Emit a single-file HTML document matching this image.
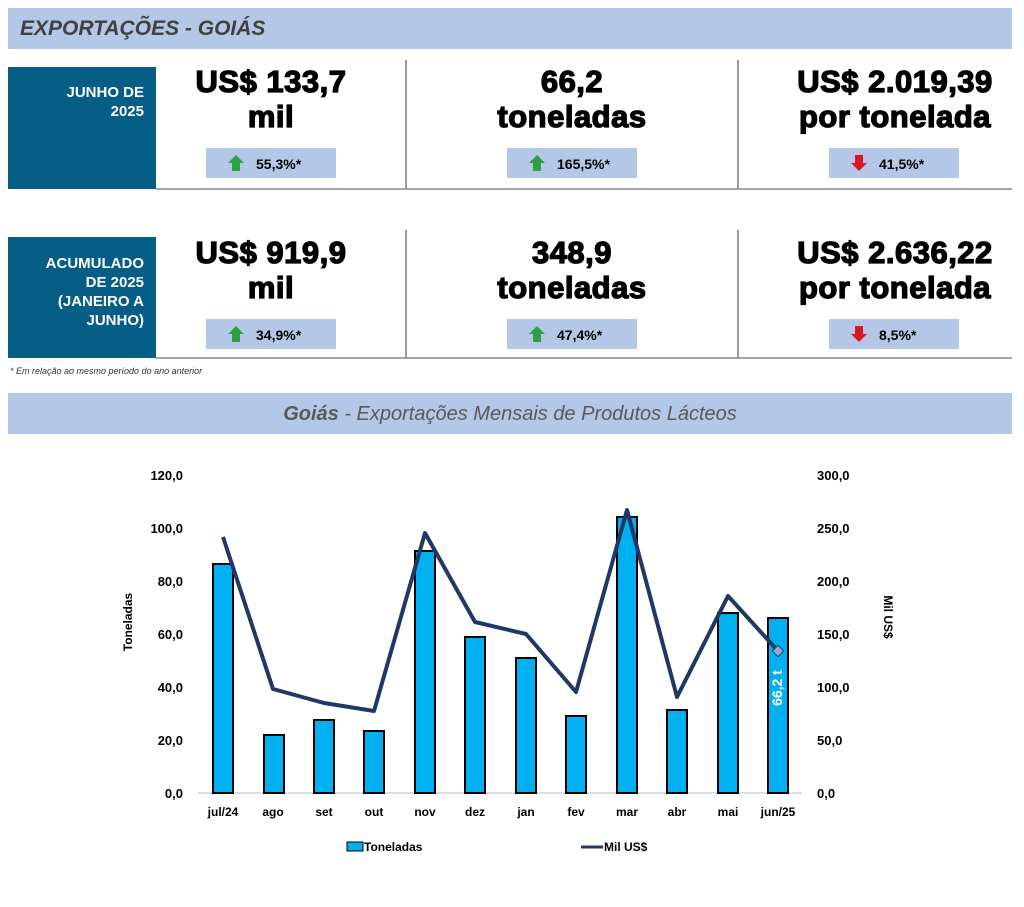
<!DOCTYPE html><html><head><meta charset="utf-8"><style>body{margin:0;background:#fff;width:1024px;height:902px;overflow:hidden;font-family:"Liberation Sans",sans-serif}</style></head><body>
<svg width="1024" height="902" xmlns="http://www.w3.org/2000/svg" font-family="Liberation Sans, sans-serif">
<rect x="8" y="8" width="1004" height="41" fill="#b4c7e7"/>
<text x="20" y="35" font-size="21" font-weight="bold" font-style="italic" fill="#404040">EXPORTAÇÕES - GOIÁS</text>
<g>
<rect x="8" y="67" width="148" height="122" fill="#065e87"/>
<text x="144" y="97" font-size="15" font-weight="bold" fill="#fff" text-anchor="end">JUNHO DE</text>
<text x="144" y="116" font-size="15" font-weight="bold" fill="#fff" text-anchor="end">2025</text>
<line x1="406" y1="60" x2="406" y2="189" stroke="#333"/><line x1="738" y1="60" x2="738" y2="189" stroke="#333"/>
<line x1="156" y1="189" x2="1012" y2="189" stroke="#888" stroke-width="1.5"/>
<g font-size="31" font-weight="900" text-anchor="middle" fill="#000" stroke="#000" stroke-width="1.3" letter-spacing="0.5">
<text x="271" y="92">US$ 133,7</text><text x="271" y="127">mil</text>
<text x="572" y="92">66,2</text><text x="572" y="127">toneladas</text>
<text x="895" y="92">US$ 2.019,39</text><text x="895" y="127">por tonelada</text></g>
<rect x="206" y="148" width="130" height="30" fill="#b4c7e7"/><rect x="507" y="148" width="130" height="30" fill="#b4c7e7"/><rect x="829" y="148" width="130" height="30" fill="#b4c7e7"/>
<polygon points="236,155 244,163 240,163 240,171 232,171 232,163 228,163" fill="#2ea043"/>
<polygon points="537,155 545,163 541,163 541,171 533,171 533,163 529,163" fill="#2ea043"/>
<polygon points="859,171 867,163 863,163 863,155 855,155 855,163 851,163" fill="#e0141e"/>
<g font-size="14" font-weight="bold"><text x="256" y="169">55,3%*</text><text x="557" y="169">165,5%*</text><text x="879" y="169">41,5%*</text></g>
</g>
<rect x="8" y="237" width="148" height="121" fill="#065e87"/>
<g font-size="15" font-weight="bold" fill="#fff" text-anchor="end"><text x="144" y="268">ACUMULADO</text><text x="144" y="287">DE 2025</text><text x="144" y="306">(JANEIRO A</text><text x="144" y="325">JUNHO)</text></g>
<line x1="406" y1="230" x2="406" y2="358" stroke="#333"/><line x1="738" y1="230" x2="738" y2="358" stroke="#333"/>
<line x1="156" y1="358" x2="1012" y2="358" stroke="#888" stroke-width="1.5"/>
<g font-size="31" font-weight="900" text-anchor="middle" fill="#000" stroke="#000" stroke-width="1.3" letter-spacing="0.5">
<text x="271" y="263">US$ 919,9</text><text x="271" y="298">mil</text>
<text x="572" y="263">348,9</text><text x="572" y="298">toneladas</text>
<text x="895" y="263">US$ 2.636,22</text><text x="895" y="298">por tonelada</text></g>
<rect x="206" y="319" width="130" height="30" fill="#b4c7e7"/><rect x="507" y="319" width="130" height="30" fill="#b4c7e7"/><rect x="829" y="319" width="130" height="30" fill="#b4c7e7"/>
<polygon points="236,326 244,334 240,334 240,342 232,342 232,334 228,334" fill="#2ea043"/>
<polygon points="537,326 545,334 541,334 541,342 533,342 533,334 529,334" fill="#2ea043"/>
<polygon points="859,342 867,334 863,334 863,326 855,326 855,334 851,334" fill="#e0141e"/>
<g font-size="14" font-weight="bold"><text x="256" y="340">34,9%*</text><text x="557" y="340">47,4%*</text><text x="879" y="340">8,5%*</text></g>
<text x="10" y="374" font-size="9" font-style="italic" fill="#333">* Em relação ao mesmo período do ano anterior</text>
<rect x="8" y="393" width="1004" height="41" fill="#b4c7e7"/>
<text x="510" y="420" font-size="20" font-style="italic" fill="#595959" text-anchor="middle"><tspan font-weight="bold">Goiás</tspan> - Exportações Mensais de Produtos Lácteos</text>
<g font-size="13" font-weight="bold" fill="#000">
<g text-anchor="end"><text x="183" y="480">120,0</text><text x="183" y="533">100,0</text><text x="183" y="586">80,0</text><text x="183" y="639">60,0</text><text x="183" y="692">40,0</text><text x="183" y="745">20,0</text><text x="183" y="798">0,0</text></g>
<g><text x="817" y="480">300,0</text><text x="817" y="533">250,0</text><text x="817" y="586">200,0</text><text x="817" y="639">150,0</text><text x="817" y="692">100,0</text><text x="817" y="745">50,0</text><text x="817" y="798">0,0</text></g>
<text transform="translate(132,622) rotate(-90)" font-size="12" text-anchor="middle">Toneladas</text>
<text transform="translate(884,617) rotate(90)" font-size="12" text-anchor="middle">Mil US$</text>
</g>
<line x1="198" y1="793" x2="802" y2="793" stroke="#bbb"/>
<g fill="#00b0f0" stroke="#000" stroke-width="2">
<rect x="213" y="564" width="20" height="229"/><rect x="264" y="735" width="20" height="58"/><rect x="314" y="720" width="20" height="73"/><rect x="364" y="731" width="20" height="62"/><rect x="415" y="551" width="20" height="242"/><rect x="465" y="637" width="20" height="156"/><rect x="516" y="658" width="20" height="135"/><rect x="566" y="716" width="20" height="77"/><rect x="617" y="517" width="20" height="276"/><rect x="667" y="710" width="20" height="83"/><rect x="718" y="613" width="20" height="180"/><rect x="768" y="618" width="20" height="175"/></g>
<polyline points="223,537 273,689 324,703 374,711 425,533 475,622 526,634 576,692 627,510 677,697 728,596 778,651" fill="none" stroke="#203864" stroke-width="4" stroke-linejoin="round"/>
<rect x="774" y="647" width="8" height="8" transform="rotate(45 778 651)" fill="#8ea9db" stroke="#203864"/>
<text transform="translate(782,688) rotate(-90)" font-size="14" font-weight="bold" fill="#fff" text-anchor="middle">66,2 t</text>
<g font-size="12" font-weight="bold" text-anchor="middle"><text x="223" y="816">jul/24</text><text x="273" y="816">ago</text><text x="324" y="816">set</text><text x="374" y="816">out</text><text x="425" y="816">nov</text><text x="475" y="816">dez</text><text x="526" y="816">jan</text><text x="576" y="816">fev</text><text x="627" y="816">mar</text><text x="677" y="816">abr</text><text x="728" y="816">mai</text><text x="778" y="816">jun/25</text></g>
<rect x="347" y="842" width="16" height="9" fill="#00b0f0" stroke="#000"/>
<text x="364" y="851" font-size="12" font-weight="bold">Toneladas</text>
<line x1="581" y1="847" x2="603" y2="847" stroke="#203864" stroke-width="3"/>
<text x="604" y="851" font-size="12" font-weight="bold">Mil US$</text>
</svg></body></html>
